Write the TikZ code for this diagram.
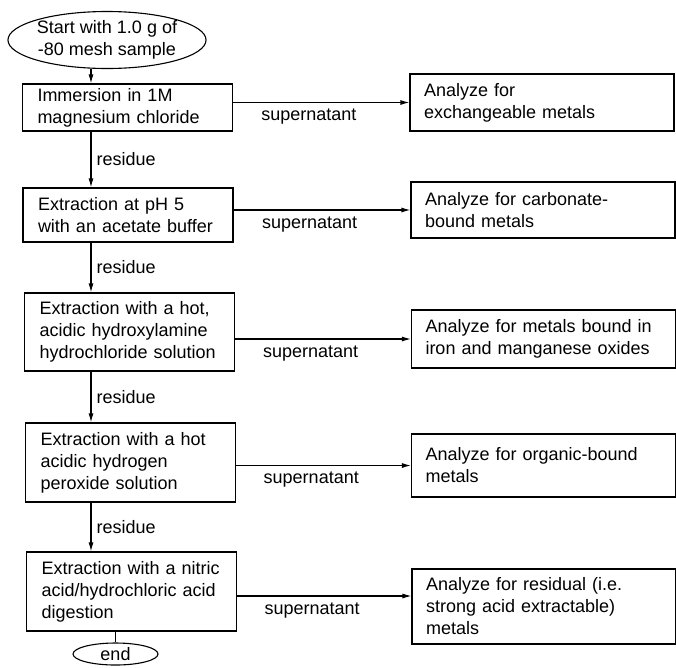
\documentclass[tikz,border=0pt]{standalone}
\usepackage{fontspec}
\setmainfont{Liberation Sans}
\usetikzlibrary{shapes.geometric,arrows.meta}

\begin{document}
\begin{tikzpicture}[x=1pt,y=-1pt,
        every node/.style={font=\fontsize{18}{22}\selectfont},
        stepbox/.style={draw,line width=1.1pt,align=left,text width=180pt,
            inner xsep=15pt,inner ysep=0pt},
        resultbox/.style={draw,line width=1.1pt,align=left,text width=236pt,
            inner xsep=14pt,inner ysep=0pt},
        terminal/.style={draw,ellipse,line width=1.1pt,align=center,inner sep=0pt},
        flow/.style={-{Latex[length=9pt,width=5pt]},line width=1.1pt},
        tag/.style={inner sep=0pt}]
            \useasboundingbox (0,0) rectangle (676,667);
            \node[terminal,minimum width=198pt,minimum height=57pt] (start)
                at (107,40) {Start with 1.0 g of\\-80 mesh sample};
            \node[stepbox,minimum height=47pt] (step1)
                at (127.5,107.5) {Immersion in 1M\\magnesium chloride};
            \node[stepbox,minimum height=54pt] (step2)
                at (128,215) {Extraction at pH 5\\with an acetate buffer};
            \node[stepbox,minimum height=78pt] (step3)
                at (129.5,332) {Extraction with a hot,\\acidic hydroxylamine\\hydrochloride solution};
            \node[stepbox,minimum height=79pt] (step4)
                at (130.5,462.5) {Extraction with a hot\\acidic hydrogen\\peroxide solution};
            \node[stepbox,minimum height=79pt] (step5)
                at (131.5,591.5) {Extraction with a nitric\\acid/hydrochloric acid\\digestion};
            \node[terminal,minimum width=85pt,minimum height=22pt] (finish)
                at (115.5,654) {end};
            \node[resultbox,minimum height=57pt] (ana1)
                at (542,102.5) {Analyze for\\exchangeable metals};
            \node[resultbox,minimum height=56pt] (ana2)
                at (543,210) {Analyze for carbonate-\\bound metals};
            \node[resultbox,minimum height=58pt] (ana3)
                at (543.5,339) {Analyze for metals bound in\\iron and manganese oxides};
            \node[resultbox,minimum height=63pt] (ana4)
                at (543.5,465.5) {Analyze for organic-bound\\metals};
            \node[resultbox,minimum height=75pt] (ana5)
                at (544,606.5) {Analyze for residual (i.e.\\strong acid extractable)\\metals};
            % residue column
            \coordinate (col) at (91,0);
            \draw[flow] (col |- start.south) -- (col |- step1.north);
            \draw[flow] (col |- step1.south) -- (col |- step2.north)
                node[tag,midway,right=5pt] {residue};
            \draw[flow] (col |- step2.south) -- (col |- step3.north)
                node[tag,midway,right=5pt] {residue};
            \draw[flow] (col |- step3.south) -- (col |- step4.north)
                node[tag,midway,right=5pt] {residue};
            \draw[flow] (col |- step4.south) -- (col |- step5.north)
                node[tag,midway,right=5pt] {residue};
            \draw[line width=1.1pt] (step5.south -| finish.north) -- (finish.north);
            % supernatant lines
            \draw[flow] (step1.east |- ana1.west) -- (ana1.west)
                node[tag,pos=0.43,below=6pt] {supernatant};
            \draw[flow] (step2.east |- ana2.west) -- (ana2.west)
                node[tag,pos=0.43,below=6pt] {supernatant};
            \draw[flow] (step3.east |- ana3.west) -- (ana3.west)
                node[tag,pos=0.43,below=6pt] {supernatant};
            \draw[flow] (step4.east |- ana4.west) -- (ana4.west)
                node[tag,pos=0.43,below=6pt] {supernatant};
            \coordinate (out5) at ([yshift=10.5pt]ana5.west);
            \draw[flow] (step5.east |- out5) -- (out5)
                node[tag,pos=0.43,below=6pt] {supernatant};
        \end{tikzpicture}
\end{document}
